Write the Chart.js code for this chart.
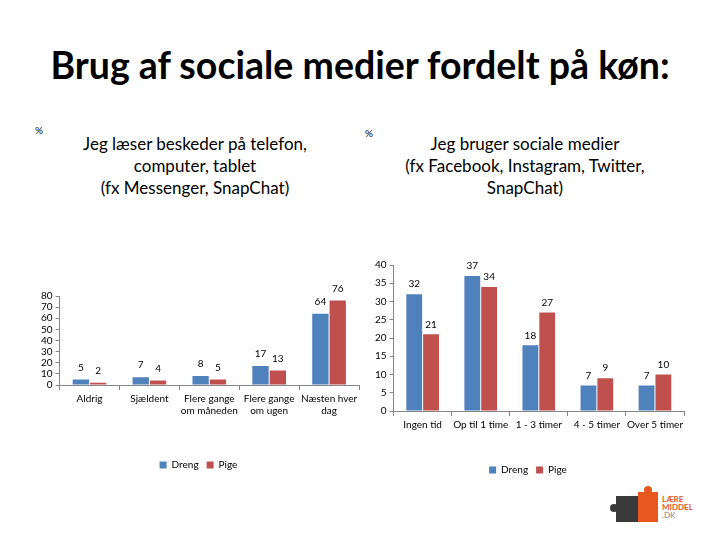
<!DOCTYPE html>
<html>
<head>
<meta charset="utf-8">
<script src="https://cdn.jsdelivr.net/npm/chart.js@4/dist/chart.umd.min.js"></script>
<style>
    body { margin: 0; background: #fff; font-family: Lato, "Open Sans", sans-serif; }
    #page { position: relative; width: 720px; height: 540px; overflow: hidden; }
    #title { position: absolute; left: 0; top: 42px; width: 720px; text-align: center; font-weight: bold; font-size: 37.5px; color: #000; }
    .pct { position: absolute; font-size: 10px; color: #000; }
    .ctitle { position: absolute; text-align: center; font-size: 17px; line-height: 22px; color: #000; }
    .box { position: absolute; }
    #logo { position: absolute; left: 608px; top: 486px; width: 90px; height: 44px; }
</style>
</head>
<body>
<div id="page">
    <div id="title">Brug af sociale medier fordelt på køn:</div>

    <div class="pct" style="left:35px; top:124px;">%</div>
    <div class="ctitle" style="left:50px; top:133px; width:290px;">Jeg læser beskeder på telefon,<br>computer, tablet<br>(fx Messenger, SnapChat)</div>

    <div class="pct" style="left:365px; top:127px;">%</div>
    <div class="ctitle" style="left:380px; top:133px; width:290px;">Jeg bruger sociale medier<br>(fx Facebook, Instagram, Twitter,<br>SnapChat)</div>

    <div class="box" style="left:38px; top:270px; width:327px; height:210px;"><canvas id="chartLeft"></canvas></div>
    <div class="box" style="left:372px; top:243px; width:318px; height:242px;"><canvas id="chartRight"></canvas></div>

    <div id="logo">
        <div style="position:absolute; left:8px; top:10px; width:22px; height:26px; background:#3a3a3a;"></div>
        <div style="position:absolute; left:2px; top:18px; width:8px; height:8px; border-radius:4px; background:#3a3a3a;"></div>
        <div style="position:absolute; left:30px; top:6px; width:20px; height:30px; background:#e8571e;"></div>
        <div style="position:absolute; left:36px; top:0px; width:8px; height:8px; border-radius:4px; background:#e8571e;"></div>
        <div style="position:absolute; left:54px; top:9px; font-size:8px; line-height:8px; color:#e8571e; font-weight:bold;">LÆRE<br>MIDDEL<br><span style="color:#888; font-weight:normal;">.DK</span></div>
    </div>
</div>

<script>
// chart 1: beskeder
const leftLabels = [['Aldrig'], ['Sjældent'], ['Flere gange', 'om måneden'], ['Flere gange', 'om ugen'], ['Næsten hver', 'dag']];
const leftDreng = [5, 7, 8, 17, 64];
const leftPige = [2, 4, 5, 13, 76];
const leftTicks = [0, 10, 20, 30, 40, 50, 60, 70, 80];

// chart 2: sociale medier
const rightLabels = ['Ingen tid', 'Op til 1 time', '1 - 3 timer', '4 - 5 timer', 'Over 5 timer'];
const rightDreng = [32, 37, 18, 7, 7];
const rightPige = [21, 34, 27, 9, 10];
const rightTicks = [0, 5, 10, 15, 20, 25, 30, 35, 40];

const BLUE = '#4f81bd';
const RED = '#c0504d';
const AXIS = '#868686';
const FONT = 'Lato, "Open Sans", sans-serif';

// draw the value over each bar
const valueLabels = {
    id: 'valueLabels',
    afterDatasetsDraw(chart, args, opts) {
        const ctx = chart.ctx;
        ctx.save();
        ctx.font = '10px ' + FONT;
        ctx.fillStyle = '#000';
        ctx.textAlign = 'center';
        ctx.textBaseline = 'bottom';
        chart.data.datasets.forEach((ds, i) => {
            chart.getDatasetMeta(i).data.forEach((bar, j) => {
                ctx.fillText(ds.data[j], bar.x, bar.y - opts.offset);
            });
        });
        ctx.restore();
    }
};

function makeChart(id, labels, dreng, pige, ticks, padTop, gap, offset) {
    return new Chart(document.getElementById(id), {
        type: 'bar',
        data: {
            labels: labels,
            datasets: [
                { label: 'Dreng', data: dreng, backgroundColor: BLUE },
                { label: 'Pige', data: pige, backgroundColor: RED }
            ]
        },
        options: {
            responsive: true,
            maintainAspectRatio: false,
            animation: false,
            datasets: { bar: { categoryPercentage: 0.58, barPercentage: 0.94 } },
            layout: { padding: { top: padTop, right: 6 } },
            plugins: {
                legend: {
                    position: 'bottom',
                    labels: { boxWidth: 7, boxHeight: 7, color: '#000', font: { family: FONT, size: 10 }, padding: 8 }
                },
                tooltip: { enabled: false },
                valueLabels: { offset: offset }
            },
            scales: {
                x: {
                    grid: { display: true, drawOnChartArea: false, color: AXIS, tickLength: 5 },
                    border: { color: AXIS },
                    ticks: { color: '#000', font: { family: FONT, size: 10 }, maxRotation: 0, autoSkip: false },
                    afterFit(scale) { scale.height += gap; }
                },
                y: {
                    min: ticks[0],
                    max: ticks[ticks.length - 1],
                    afterBuildTicks(scale) { scale.ticks = ticks.map(v => ({ value: v })); },
                    grid: { display: true, drawOnChartArea: false, color: AXIS, tickLength: 4 },
                    border: { color: AXIS },
                    ticks: { color: '#000', font: { family: FONT, size: 10 }, padding: 3, autoSkip: false }
                }
            }
        },
        plugins: [valueLabels]
    });
}

makeChart('chartLeft', leftLabels, leftDreng, leftPige, leftTicks, 26, 32, 7);
makeChart('chartRight', rightLabels, rightDreng, rightPige, rightTicks, 22, 23, 5);
</script>
</body>
</html>
